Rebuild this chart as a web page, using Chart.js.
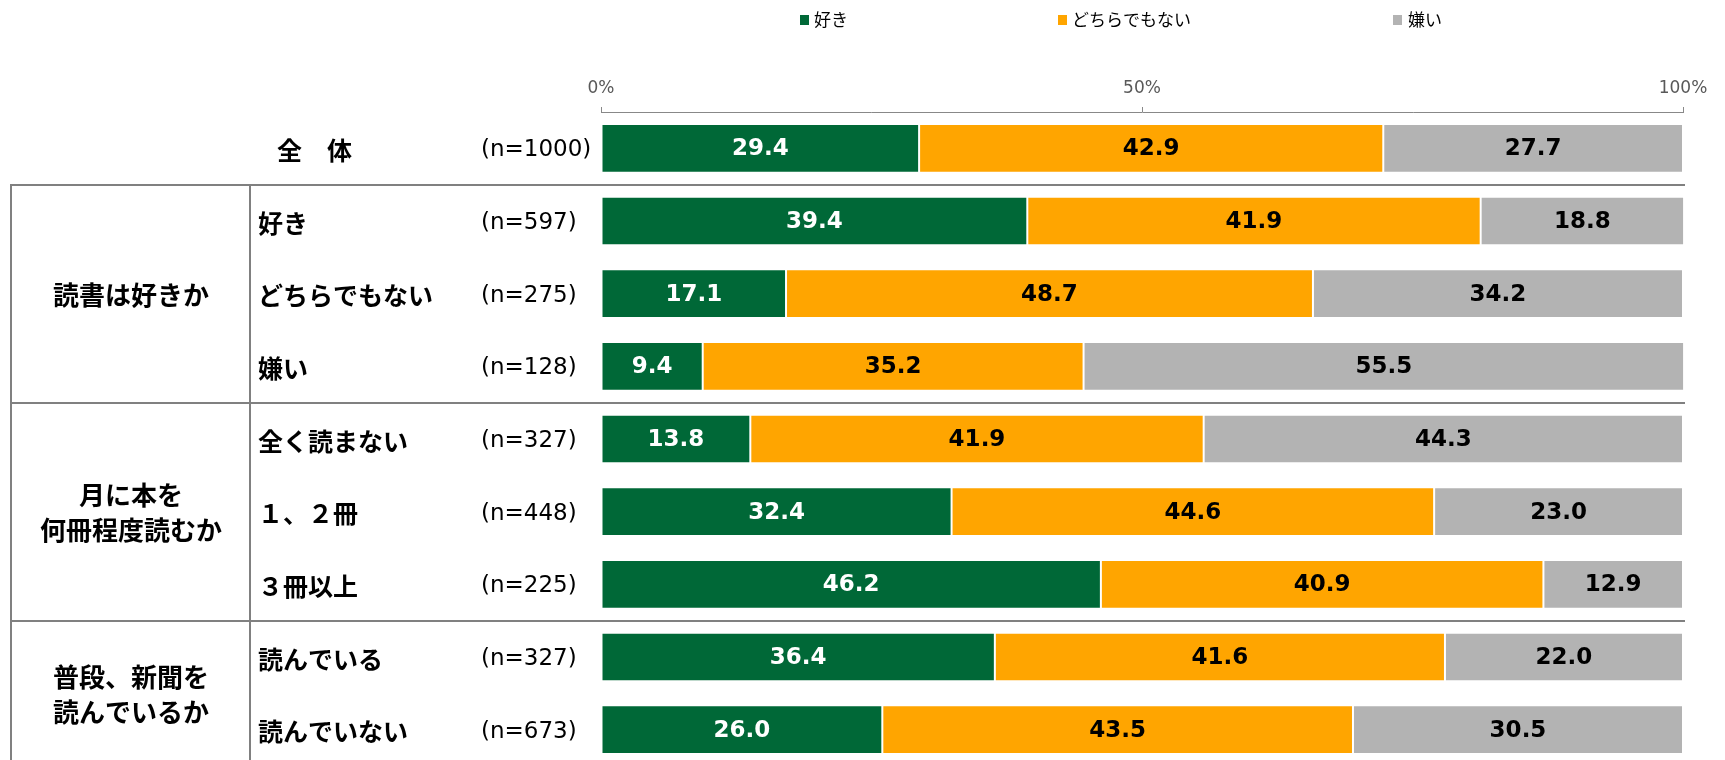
<!DOCTYPE html>
<html lang="ja">
<head>
<meta charset="utf-8">
<script src="https://cdn.jsdelivr.net/npm/chart.js@4.4.1/dist/chart.umd.min.js"></script>
<style>
  html, body { margin: 0; padding: 0; background: #fff; overflow: hidden; }
  #wrap { position: relative; width: 1725px; height: 790px; }
</style>
</head>
<body>
<div id="wrap"><canvas id="c"></canvas></div>
<script>
// ---- data ----
const categories = ['全　体', '好き', 'どちらでもない', '嫌い', '全く読まない', '１、２冊', '３冊以上', '読んでいる', '読んでいない'];
const sampleSizes = ['(n=1000)', '(n=597)', '(n=275)', '(n=128)', '(n=327)', '(n=448)', '(n=225)', '(n=327)', '(n=673)'];
const groupTitles = [['読書は好きか'], ['月に本を', '何冊程度読むか'], ['普段、新聞を', '読んでいるか']];
const groupFirstRow = [1, 4, 7];
const groupLastRow = [3, 6, 8];
const seriesNames = ['好き', 'どちらでもない', '嫌い'];
const likeValues = [29.4, 39.4, 17.1, 9.4, 13.8, 32.4, 46.2, 36.4, 26.0];
const neutralValues = [42.9, 41.9, 48.7, 35.2, 41.9, 44.6, 40.9, 41.6, 43.5];
const dislikeValues = [27.7, 18.8, 34.2, 55.5, 44.3, 23.0, 12.9, 22.0, 30.5];
const tickValues = [0, 50, 100];

// ---- styles ----
const seriesColors = ['#006837', '#FFA500', '#B3B3B3'];
const labelColors = ['#FFFFFF', '#000000', '#000000'];
const JP = '"Noto Sans CJK JP", "Noto Sans", sans-serif';
const NUM = '"DejaVu Sans", Verdana, sans-serif';
const lineColor = '#808080';

const legendPlugin = {
  id: 'customLegend',
  afterDraw(chart) {
    const ctx = chart.ctx;
    const markerX = [800, 1058, 1393];
    const textX = [814, 1072, 1408];
    ctx.save();
    ctx.font = '17px ' + JP;
    ctx.textBaseline = 'middle';
    ctx.textAlign = 'left';
    seriesNames.forEach((name, i) => {
      ctx.fillStyle = seriesColors[i];
      ctx.fillRect(markerX[i], 15, 9, 10);
      ctx.fillStyle = '#000';
      ctx.fillText(name, textX[i], 20);
    });
    ctx.restore();
  }
};

const tablePlugin = {
  id: 'table',
  afterDraw(chart) {
    const ctx = chart.ctx;
    const y = chart.scales.y;
    const area = chart.chartArea;
    const rowY = i => y.getPixelForValue(i);
    const half = (rowY(1) - rowY(0)) / 2;
    ctx.save();
    // separators
    ctx.strokeStyle = lineColor;
    ctx.lineWidth = 2;
    groupFirstRow.forEach(r => {
      const yy = Math.round(rowY(r) - half);
      ctx.beginPath();
      ctx.moveTo(11, yy);
      ctx.lineTo(area.right + 2, yy);
      ctx.stroke();
    });
    const topY = Math.round(rowY(1) - half);
    [11, 250].forEach(x => {
      ctx.beginPath();
      ctx.moveTo(x, topY - 1);
      ctx.lineTo(x, chart.height);
      ctx.stroke();
    });
    // row labels
    ctx.fillStyle = '#000';
    ctx.textBaseline = 'middle';
    ctx.textAlign = 'left';
    categories.forEach((c, i) => {
      ctx.font = 'bold 25px ' + JP;
      ctx.fillText(c, i === 0 ? 277 : 258, rowY(i) + 2);
      ctx.font = '23px ' + NUM;
      ctx.fillText(sampleSizes[i], 481, rowY(i) + 2);
    });
    // group labels
    ctx.textAlign = 'center';
    ctx.font = 'bold 26px ' + JP;
    groupTitles.forEach((lines, g) => {
      const cy = (rowY(groupFirstRow[g]) + rowY(groupLastRow[g])) / 2 + 1;
      const lh = 35;
      lines.forEach((t, k) => {
        ctx.fillText(t, 131, cy + (k - (lines.length - 1) / 2) * lh);
      });
    });
    ctx.restore();
  }
};

const valuePlugin = {
  id: 'values',
  afterDatasetsDraw(chart) {
    const ctx = chart.ctx;
    ctx.save();
    ctx.font = 'bold 23px ' + NUM;
    ctx.textAlign = 'center';
    ctx.textBaseline = 'middle';
    chart.data.datasets.forEach((ds, di) => {
      const meta = chart.getDatasetMeta(di);
      ctx.fillStyle = labelColors[di];
      meta.data.forEach((el, i) => {
        const cx = (el.x + el.base) / 2;
        ctx.fillText(ds.data[i].toFixed(1), cx, el.y + 1);
      });
    });
    ctx.restore();
  }
};

const seriesData = [likeValues, neutralValues, dislikeValues];

new Chart(document.getElementById('c'), {
  type: 'bar',
  data: {
    labels: categories,
    datasets: seriesNames.map((n, i) => ({
      label: n,
      data: seriesData[i],
      backgroundColor: seriesColors[i],
      borderColor: '#FFFFFF',
      borderWidth: 1,
      borderSkipped: false,
      categoryPercentage: 1,
      barPercentage: 0.67,
      clip: false
    }))
  },
  options: {
    indexAxis: 'y',
    responsive: true,
    maintainAspectRatio: false,
    devicePixelRatio: 1,
    animation: false,
    layout: { padding: { left: 601, right: 42, top: 0, bottom: 24 } },
    plugins: { legend: { display: false }, tooltip: { enabled: false } },
    scales: {
      x: {
        position: 'top',
        stacked: true,
        min: 0,
        max: 100,
        afterBuildTicks(scale) { scale.ticks = tickValues.map(v => ({ value: v })); },
        afterFit(scale) { scale.height = 112; },
        ticks: {
          callback: v => v + '%',
          color: '#595959',
          font: { family: NUM, size: 17 },
          padding: 8,
          maxRotation: 0
        },
        grid: { display: true, drawOnChartArea: false, drawTicks: true, tickLength: 5, color: '#888' },
        border: { display: true, color: '#888', width: 1 }
      },
      y: {
        stacked: true,
        display: false
      }
    }
  },
  plugins: [legendPlugin, tablePlugin, valuePlugin]
});
</script>
</body>
</html>
